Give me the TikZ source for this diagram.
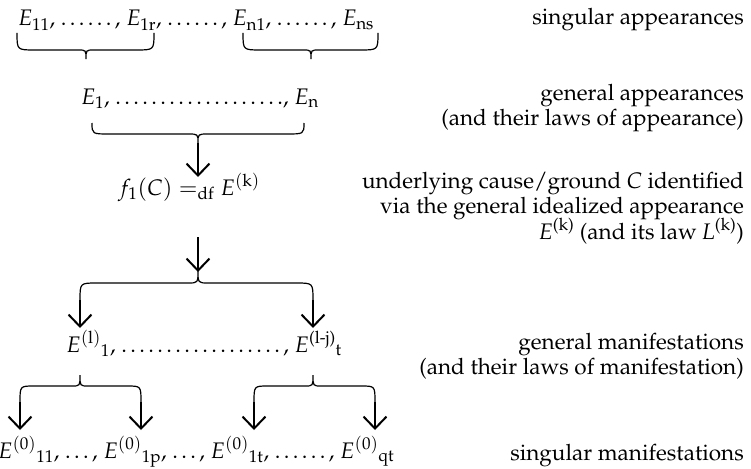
\documentclass[tikz,border=0pt]{standalone}
\usepackage[T1]{fontenc}
\usepackage{mathpazo}
\usepackage{amsmath}
\usetikzlibrary{arrows.meta}
\tikzset{
  x=1pt, y=-1pt,
  txt/.style={inner sep=0pt, font=\fontsize{22.5}{25}\selectfont},
  lbl/.style={txt, anchor=base east},
  row/.style={txt, anchor=base},
  brc/.style={line width=1.2pt},
  arr/.style={line width=2pt, -{Straight Barb[length=12pt,width=23pt,line width=2pt]}},
}
\begin{document}
\begin{tikzpicture}
\useasboundingbox (0,0) rectangle (751,468);
% rows
\node[row] (r1) at (196,26) {$E_{\mathrm{11}}$, \ldots\ldots, $E_{\mathrm{1r}}$, \ldots\ldots, $E_{\mathrm{n1}}$, \ldots\ldots, $E_{\mathrm{ns}}$};
\node[row] (r2) at (200,104) {$E_{1}$, \ldots\ldots\ldots\ldots\ldots\ldots., $E_{\mathrm{n}}$};
\node[row] (f) at (189,195) {$f_1(C) =_{\mathrm{df}} E^{(\mathrm{k})}$};
\node[row] (r4) at (204,352) {$E^{(\mathrm{l})}{}_{1}$, \ldots\ldots\ldots\ldots\ldots\ldots, $E^{\text{(l-j)}}{}_{\mathrm{t}}$};
\node[row] (r5) at (196,458) {$E^{(0)}{}_{11}$, \ldots, $E^{(0)}{}_{\mathrm{1p}}$, \ldots, $E^{(0)}{}_{\mathrm{1t}}$, \ldots\ldots, $E^{(0)}{}_{\mathrm{qt}}$};
% labels
\node[lbl] (l1) at (744,25) {singular appearances};
\node[lbl] (l2) at (744,101) {general appearances};
\node[lbl] (l3) at (744,125) {(and their laws of appearance)};
\node[lbl] (l4) at (744,188) {underlying cause/ground \textit{C} identified};
\node[lbl] (l5) at (744,213) {via the general idealized appearance};
\node[lbl] (l6) at (744,239) {\textit{E}\textsuperscript{(k)} (and its law \textit{L}\textsuperscript{(k)})};
\node[lbl] (l7) at (744,349) {general manifestations};
\node[lbl] (l8) at (744,374) {(and their laws of manifestation)};
\node[lbl] (l9) at (744,460) {singular manifestations};
% braces under row 1
\draw[brc] (17,33) .. controls (17,50) .. (35,50) -- (78,50) .. controls (86,50) .. (86,59)
  .. controls (86,50) .. (94,50) -- (136,50) .. controls (154,50) .. (154,33);
\coordinate (b1) at (86,59);
\draw[brc] (243,33) .. controls (243,50) .. (261,50) -- (303,50) .. controls (311,50) .. (311,59)
  .. controls (311,50) .. (319,50) -- (360,50) .. controls (378,50) .. (378,33);
\coordinate (b2) at (311,59);
% brace under row 2
\draw[brc] (92,123) .. controls (92,134) .. (110,134) -- (188,134) .. controls (198,134) .. (198,143)
  .. controls (198,134) .. (208,134) -- (286,134) .. controls (304,134) .. (304,123);
\coordinate (b3) at (198,143);
\draw[arr] (b3) -- (198,177) coordinate (a1);
% arrow from f to fork
\coordinate (f0) at (198,237);
\coordinate (k0) at (198,272);
\draw[arr] (f0) -- (k0);
% main fork
\draw[brc] (80,300) .. controls (80,283) .. (97,283) -- (188,283) .. controls (198,283) .. (198,270)
  .. controls (198,283) .. (208,283) -- (296,283) .. controls (313,283) .. (313,300);
\coordinate (k1) at (80,300);
\coordinate (k2) at (313,300);
\draw[arr] (k1) -- (80,328);
\draw[arr] (k2) -- (313,328);
% sub forks
\draw[brc] (20,402) .. controls (20,386) .. (34,386) -- (72,386) .. controls (80,386) .. (80,375)
  .. controls (80,386) .. (88,386) -- (127,386) .. controls (141,386) .. (141,402);
\coordinate (s1) at (20,402);
\coordinate (s2) at (141,402);
\draw[arr] (s1) -- (20,430);
\draw[arr] (s2) -- (141,430);
\draw[brc] (254,402) .. controls (254,386) .. (268,386) -- (305,386) .. controls (313,386) .. (313,375)
  .. controls (313,386) .. (321,386) -- (361,386) .. controls (375,386) .. (375,402);
\coordinate (s3) at (254,402);
\coordinate (s4) at (375,402);
\draw[arr] (s3) -- (254,430);
\draw[arr] (s4) -- (375,430);
\end{tikzpicture}
\end{document}
